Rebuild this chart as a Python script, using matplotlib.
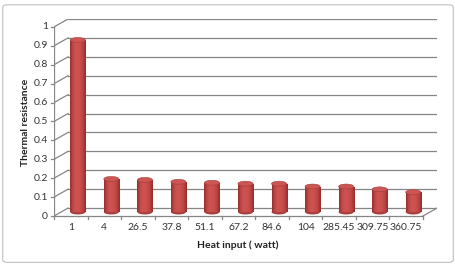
import numpy as np
import matplotlib.pyplot as plt
from matplotlib.patches import Rectangle, Ellipse, FancyBboxPatch

# ---------------- data ----------------
heat_input = ['1', '4', '26.5', '37.8', '51.1', '67.2', '84.6', '104', '285.45', '309.75', '360.75']
thermal_res = [0.91, 0.175, 0.17, 0.16, 0.155, 0.15, 0.15, 0.135, 0.135, 0.12, 0.105]
y_ticks = [0, 0.1, 0.2, 0.3, 0.4, 0.5, 0.6, 0.7, 0.8, 0.9, 1]

plt.rcParams['font.family'] = ['Lato', 'DejaVu Sans']

# fake 3d depth offset (data units)
dx, dy = 0.42, 0.042
bar_w = 0.45
ell_h = 0.026
grid_c = '#858585'
txt_c = '#333333'

fig = plt.figure(figsize=(4.56, 2.65), dpi=100)
fig.patches.append(FancyBboxPatch((0.006, 0.01), 0.988, 0.972, boxstyle='round,pad=0,rounding_size=0.01',
                                  transform=fig.transFigure, fc='none', ec='#bfbfbf', lw=0.8, zorder=-1))
ax = fig.add_axes([0.1184, 0.1849, 0.840, 0.7434])
n = len(heat_input)
ax.axis('off')

#------------- walls: gridlines on back wall, diagonals on side wall ----------
for v in y_ticks:
    ax.plot([-0.5 + dx, n - 0.5 + dx], [v + dy, v + dy], color=grid_c, lw=0.9, zorder=1)
    ax.plot([-0.5, -0.5 + dx], [v, v + dy], color=grid_c, lw=0.9, zorder=1)
    ax.plot([-0.58, -0.5], [v, v], color=grid_c, lw=0.9, zorder=1, clip_on=False)
    ax.text(-0.68, v, f'{v:g}', ha='right', va='center', fontsize=7.5, color=txt_c)
ax.plot([-0.5, -0.5], [0, 1], color=grid_c, lw=0.9, zorder=1)

# floor
ax.plot([-0.5, n - 0.5], [0, 0], color=grid_c, lw=0.9, zorder=1, clip_on=False)
ax.plot([n - 0.5, n - 0.5 + dx], [0, dy], color=grid_c, lw=0.9, zorder=1)
for i in range(n + 1):
    ax.plot([i - 0.5, i - 0.5], [0, -0.015], color=grid_c, lw=0.9, clip_on=False)
for i, lab in enumerate(heat_input):
    ax.text(i, -0.06, lab, ha='center', va='center', fontsize=7.5, color=txt_c)

#------------- cylinders ----------------------------------------------------
cols = np.array([[0.58, 0.19, 0.18], [0.76, 0.29, 0.28], [0.81, 0.33, 0.32],
                 [0.79, 0.31, 0.30], [0.73, 0.27, 0.26], [0.58, 0.18, 0.17]])
grad = np.zeros((1, 60, 3))
xs = np.linspace(0, 1, 60)
for c in range(3):
    grad[0, :, c] = np.interp(xs, np.linspace(0, 1, len(cols)), cols[:, c])

for i, val in enumerate(thermal_res):
    cx = i + dx / 2
    base = dy / 2
    # bottom ellipse
    ax.add_patch(Ellipse((cx, base), bar_w, ell_h, fc='#a9403d', ec='none', zorder=3))
    body = Rectangle((cx - bar_w / 2, base), bar_w, val, fc='none', ec='none', zorder=3)
    ax.add_patch(body)
    im = ax.imshow(grad, extent=(cx - bar_w / 2, cx + bar_w / 2, base, base + val),
                   aspect='auto', zorder=3, interpolation='bilinear')
    im.set_clip_path(body)
    ax.add_patch(Ellipse((cx, base + val), bar_w, ell_h, fc='#cc5653', ec='#a63c39', lw=0.4, zorder=4))

ax.set_xlim(-0.5, n - 0.5 + dx)
ax.set_ylim(0, 1 + dy)

fig.text(0.055, 0.54, 'Thermal resistance', rotation=90, ha='center', va='center',
         fontsize=7.5, fontweight='bold', color='#222222')
fig.text(0.522, 0.075, 'Heat input ( watt)', ha='center', va='center',
         fontsize=7.5, fontweight='bold', color='#222222')

plt.savefig('out.png', dpi=100)
